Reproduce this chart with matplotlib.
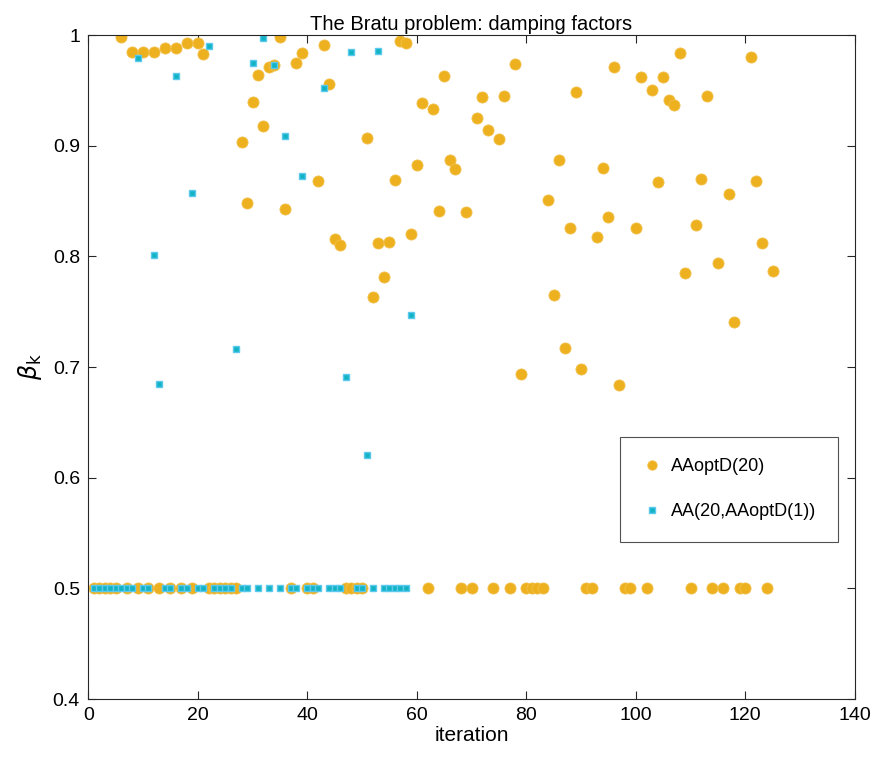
import matplotlib
matplotlib.use("Agg")
import matplotlib.pyplot as plt
from matplotlib.ticker import FuncFormatter

plt.rcParams['font.family'] = ['Liberation Sans', 'DejaVu Sans']

# AAoptD(20): damping factor per iteration (1..125)
beta_optd = [
    0.5, 0.5, 0.5, 0.5, 0.5, 0.998, 0.5, 0.985, 0.5, 0.985,
    0.5, 0.985, 0.5, 0.988, 0.5, 0.9885, 0.5, 0.9925, 0.5, 0.9925,
    0.983, 0.5, 0.5, 0.5, 0.5, 0.5, 0.5, 0.903, 0.848, 0.940,
    0.964, 0.918, 0.971, 0.973, 0.998, 0.843, 0.5, 0.975, 0.984, 0.5,
    0.5, 0.868, 0.991, 0.956, 0.816, 0.810, 0.5, 0.5, 0.5, 0.5,
    0.907, 0.763, 0.812, 0.781, 0.813, 0.869, 0.995, 0.993, 0.820, 0.883,
    0.939, 0.5, 0.933, 0.841, 0.963, 0.887, 0.879, 0.5, 0.840, 0.5,
    0.925, 0.944, 0.914, 0.5, 0.906, 0.945, 0.5, 0.974, 0.694, 0.5,
    0.5, 0.5, 0.5, 0.851, 0.765, 0.887, 0.717, 0.826, 0.949, 0.698,
    0.5, 0.5, 0.818, 0.880, 0.836, 0.971, 0.684, 0.5, 0.5, 0.826,
    0.962, 0.5, 0.950, 0.867, 0.962, 0.941, 0.937, 0.984, 0.785, 0.5,
    0.828, 0.870, 0.945, 0.5, 0.794, 0.5, 0.856, 0.741, 0.5, 0.5,
    0.980, 0.868, 0.812, 0.5, 0.787,
]
iter_optd = list(range(1, len(beta_optd) + 1))

# AA(20,AAoptD(1)): damping factor per iteration (1..59)
beta_aa = [
    0.5, 0.5, 0.5, 0.5, 0.5, 0.5, 0.5, 0.5, 0.979, 0.5,
    0.5, 0.801, 0.685, 0.5, 0.5, 0.963, 0.5, 0.5, 0.857, 0.5,
    0.5, 0.990, 0.5, 0.5, 0.5, 0.5, 0.716, 0.5, 0.5, 0.975,
    0.5, 0.997, 0.5, 0.973, 0.5, 0.909, 0.5, 0.5, 0.873, 0.5,
    0.5, 0.5, 0.952, 0.5, 0.5, 0.5, 0.691, 0.985, 0.5, 0.5,
    0.621, 0.5, 0.986, 0.5, 0.5, 0.5, 0.5, 0.5, 0.747,
]
iter_aa = list(range(1, len(beta_aa) + 1))

fig = plt.figure(figsize=(8.74, 7.64), dpi=100)
ax = fig.add_axes([0.101, 0.085, 0.877, 0.869])

ax.plot(iter_optd, beta_optd, linestyle='none', marker='o', markersize=8.0,
        markerfacecolor='#EDB120', markeredgecolor='#F2C04A', markeredgewidth=0.6,
        label='AAoptD(20)')
ax.plot(iter_aa, beta_aa, linestyle='none', marker='s', markersize=4.8,
        markerfacecolor='#13B3C6', markeredgecolor='#5BC8EE', markeredgewidth=1.0,
        label='AA(20,AAoptD(1))')

ax.set_xlim(0, 140)
ax.set_ylim(0.4, 1.0)
ax.set_xticks([0, 20, 40, 60, 80, 100, 120, 140])
ax.set_yticks([0.4, 0.5, 0.6, 0.7, 0.8, 0.9, 1.0])
ax.yaxis.set_major_formatter(FuncFormatter(lambda v, p: f"{v:g}"))
ax.tick_params(direction='in', top=True, right=True, labelsize=14, length=6,
               width=0.8, color='#262626', pad=6)
for s in ax.spines.values():
    s.set_color('#262626')
    s.set_linewidth(0.8)

ax.set_title('The Bratu problem: damping factors', fontsize=14.5, pad=4)
ax.set_xlabel('iteration', fontsize=15, labelpad=1)
ax.set_ylabel(r'$\beta_{\rm k}$', fontsize=17, labelpad=6)

leg = ax.legend(loc='upper right', bbox_to_anchor=(0.978, 0.395), fontsize=13,
                frameon=True, fancybox=False, borderpad=1.2, labelspacing=1.55,
                handletextpad=0.5, handlelength=1.1, borderaxespad=0,
                markerscale=0.85)
leg.get_frame().set_edgecolor('#262626')
leg.get_frame().set_linewidth(0.8)

fig.savefig('out.png', dpi=100)
